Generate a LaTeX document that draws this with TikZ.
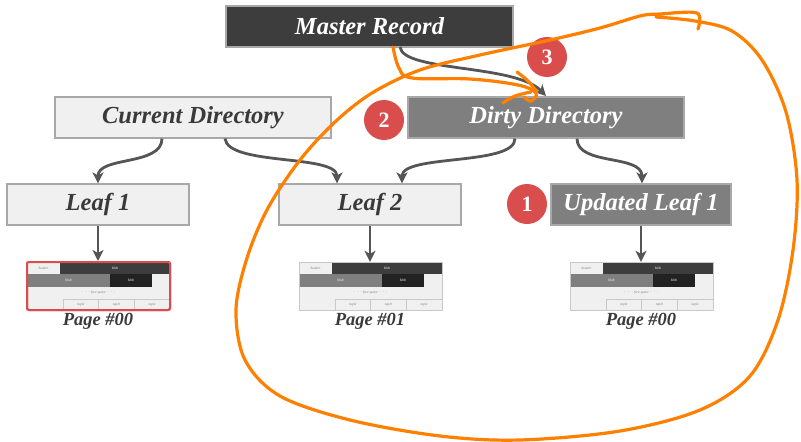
\documentclass[tikz,border=0pt]{standalone}
\usepackage{fontspec}
\setmainfont{Liberation Serif}
\usetikzlibrary{arrows.meta}
\definecolor{darkbox}{HTML}{3D3D3D}
\definecolor{graybox}{HTML}{7F7F7F}
\definecolor{lightbox}{HTML}{F0F0F0}
\definecolor{boxborder}{HTML}{A8A8A8}
\definecolor{txtdark}{HTML}{3A3A3A}
\definecolor{arrowc}{HTML}{555555}
\definecolor{badgered}{HTML}{DA4D4D}
\definecolor{pen}{HTML}{FF8000}
\definecolor{blackblob}{HTML}{222222}
\definecolor{cellline}{HTML}{C8C8C8}
\newcommand\pagewidget[4]{%
  \begin{scope}[shift={(#1,#2)}]
    \node[pagebg,#4] (#3) at (71.5,24) {};
    \fill[lightbox] (0,0) rectangle (33,12);
    \node[celltxt,text=gray] at (16.5,6) {header};
    \fill[darkbox] (33,0) rectangle (143,12);
    \node[celltxt,text=white] at (88,6) {blob};
    \fill[graybox] (0,12) rectangle (83,25);
    \node[celltxt,text=white] at (41.5,18.5) {blob};
    \fill[blackblob] (83,12) rectangle (125,25);
    \node[celltxt,text=white] at (104,18.5) {blob};
    \node[celltxt,text=gray] at (71.5,31) {$\cdots$ free space $\cdots$};
    \draw[cellline,line width=0.5] (36,48) -- (36,37) -- (143,37);
    \draw[cellline,line width=0.5] (71.7,37) -- (71.7,48) (107.3,37) -- (107.3,48);
    \node[celltxt,text=gray] at (53.8,42.5) {tuple};
    \node[celltxt,text=gray] at (89.5,42.5) {tuple};
    \node[celltxt,text=gray] at (125.2,42.5) {tuple};
    \node[pageborder,#4] at (71.5,24) {};
  \end{scope}}
\begin{document}
\begin{tikzpicture}[x=1pt,y=-1pt,
  box/.style={draw=boxborder,line width=1.2pt,minimum height=41pt,inner sep=0pt,
     font=\bfseries\itshape\fontsize{24.5}{27}\selectfont},
  darkstyle/.style={box,fill=darkbox,text=white},
  graystyle/.style={box,fill=graybox,text=white},
  lightstyle/.style={box,fill=lightbox,text=txtdark},
  badge/.style={circle,fill=badgered,text=white,minimum size=40pt,inner sep=0pt,
     font=\bfseries\fontsize{22}{22}\selectfont},
  conn/.style={draw=arrowc,line width=2.8pt,-{Stealth[length=11pt,width=11pt,inset=3pt]}},
  pagebg/.style={fill=lightbox,minimum width=143pt,minimum height=48pt,inner sep=0pt},
  pageborder/.style={draw=cellline,line width=0.6pt,minimum width=143pt,minimum height=48pt,inner sep=0pt},
  redframe/.style={draw=badgered,line width=2pt,rounded corners=2pt},
  nofr/.style={},
  celltxt/.style={font=\itshape\fontsize{3.6}{4}\selectfont,inner sep=0pt},
  pagelabel/.style={font=\bfseries\itshape\fontsize{18.5}{20}\selectfont,text=txtdark},
  penline/.style={draw=pen,line width=3.2pt,line cap=round,line join=round}
]
\useasboundingbox (0,0) rectangle (801,442);

\node[darkstyle,minimum width=287pt] (master) at (369.5,26.5) {Master Record};
\node[lightstyle,minimum width=276pt] (curdir) at (193,117.5) {Current Directory};
\node[graystyle,minimum width=276pt] (dirty) at (546,117.5) {Dirty Directory};
\node[lightstyle,minimum width=182pt] (leafa) at (98,204.5) {Leaf 1};
\node[lightstyle,minimum width=182pt] (leafb) at (370,204.5) {Leaf 2};
\node[graystyle,minimum width=180pt] (updleaf) at (641,204.5) {Updated Leaf 1};

\node[badge] (b3) at (547,57) {3};
\node[badge] (b2) at (384,120) {2};
\node[badge] (b1) at (527,204) {1};

\pagewidget{27}{262}{pga}{redframe}
\pagewidget{299}{262}{pgb}{nofr}
\pagewidget{570}{262}{pgc}{nofr}

\node[pagelabel] (lbla) at (98,321) {Page \#00};
\node[pagelabel] (lblb) at (370,321) {Page \#01};
\node[pagelabel] (lblc) at (641,321) {Page \#00};

\coordinate (mS) at (400,47);
\coordinate (dN) at (546,96);
\draw[conn] (mS) .. controls (403,72) and (515,64) .. (dN);
\draw[conn] (curdir.south -| 162,0) .. controls (162,166) and (98,156) .. (leafa.north);
\draw[conn] (curdir.south -| 225,0) .. controls (228,166) and (337,154) .. (leafb.north -| 337,0);
\draw[conn] (dirty.south -| 515,0) .. controls (515,166) and (402,154) .. (leafb.north -| 402,0);
\draw[conn] (dirty.south -| 577,0) .. controls (577,166) and (642,154) .. (updleaf.north -| 642,0);
\draw[conn] (leafa.south) -- (pga.north -| leafa.south);
\draw[conn] (leafb.south) -- (pgb.north -| leafb.south);
\draw[conn] (updleaf.south) -- (pgc.north -| updleaf.south);

% orange freehand annotations
\draw[penline] plot[smooth,tension=0.6] coordinates {(393,47) (399,68) (412,78) (470,79) (518,85) (536,93) (531,101) (524,97)};
\draw[penline] plot[smooth,tension=0.6] coordinates {(517,72) (528,81) (537,92)};
\draw[penline] plot[smooth,tension=0.6] coordinates {(503,103) (515,96) (531,92)};
\draw[penline] plot[smooth,tension=0.55] coordinates {(698,29) (697,13) (660,14) (640,16) (600,28) (550,40) (480,55) (420,70) (372,93) (335,122) (300,160) (268,208) (247,258) (236,310) (245,360) (280,396) (350,420) (440,436) (520,440) (620,431) (700,410) (750,376) (778,320) (793,250) (797,180) (786,112) (762,60) (732,31) (695,21) (656,17)};
\end{tikzpicture}
\end{document}
